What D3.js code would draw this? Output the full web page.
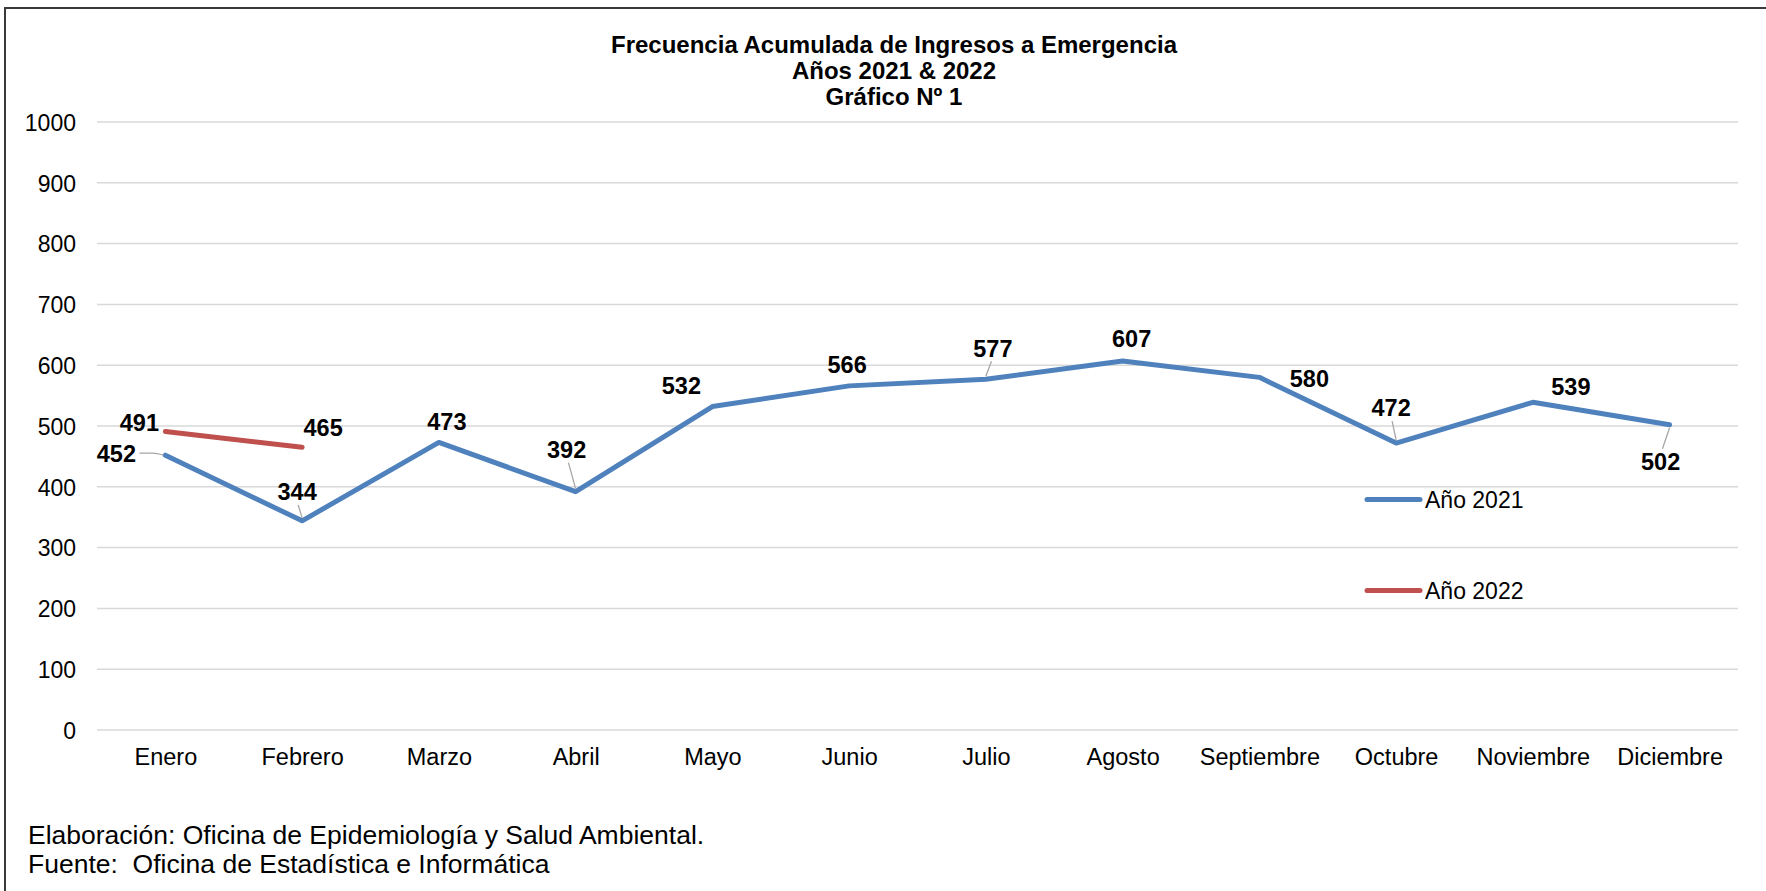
<!DOCTYPE html>
<html>
<head>
<meta charset="utf-8">
<script src="https://cdn.jsdelivr.net/npm/d3@7"></script>
<style>
  html, body { margin: 0; padding: 0; background: #ffffff; }
  svg { display: block; }
  text { font-family: "Liberation Sans", Arial, Helvetica, sans-serif; fill: #000; white-space: pre; }
</style>
</head>
<body>
<svg id="chart" width="1766" height="891"></svg>
<script>
// ---- data ----
const months = ["Enero","Febrero","Marzo","Abril","Mayo","Junio","Julio","Agosto","Septiembre","Octubre","Noviembre","Diciembre"];
const values2021 = [452, 344, 473, 392, 532, 566, 577, 607, 580, 472, 539, 502];
const values2022 = [491, 465];
const seriesNames = ["Año 2021", "Año 2022"];
const yTicks = [0, 100, 200, 300, 400, 500, 600, 700, 800, 900, 1000];
const titleLines = ["Frecuencia Acumulada de Ingresos a Emergencia", "Años 2021 & 2022", "Gráfico Nº 1"];
const footerLines = ["Elaboración: Oficina de Epidemiología y Salud Ambiental.", "Fuente:  Oficina de Estadística e Informática"];

// ---- layout / style ----
const colors = ["#4F81BD", "#C0504D"];
// label offsets (dx, dy) from the data point, plus leader style
const labelLayout2021 = [
  {dx:-49, dy:-2,  leader:"right"},
  {dx:-5,  dy:-29, leader:"below"},
  {dx:8,   dy:-21},
  {dx:-9,  dy:-42, leader:"below"},
  {dx:-31, dy:-21},
  {dx:-2,  dy:-21},
  {dx:7,   dy:-31, leader:"below"},
  {dx:9,   dy:-22},
  {dx:50,  dy:1},
  {dx:-5,  dy:-35, leader:"below"},
  {dx:38,  dy:-16},
  {dx:-9,  dy:37,  leader:"above"}
];
const labelLayout2022 = [
  {dx:-26, dy:-9},
  {dx:21,  dy:-20}
];

const svg = d3.select("#chart");

// frame
svg.append("path")
  .attr("d", "M5,891 L5,8 L1766,8")
  .attr("fill", "none")
  .attr("stroke", "#3a3a3a")
  .attr("stroke-width", 2);

const x = d3.scalePoint().domain(months).range([97, 1738]).padding(0.5);
const y = d3.scaleLinear().domain([0, 1000]).range([730, 122]);

// gridlines
svg.append("g").selectAll("line").data(yTicks).join("line")
  .attr("x1", 97).attr("x2", 1738)
  .attr("y1", d => y(d)).attr("y2", d => y(d))
  .attr("stroke", "#D9D9D9").attr("stroke-width", 1.5);

// y axis labels
const yAxis = d3.axisLeft(y).tickValues(yTicks).tickSize(0).tickPadding(0).tickFormat(d3.format("d"));
const gy = svg.append("g").attr("transform", "translate(76,0)").call(yAxis);
gy.select(".domain").remove();
gy.selectAll("text").attr("font-size", 23).attr("fill", "#000")
  .attr("font-family", "Liberation Sans, Arial, sans-serif").attr("dy", "0.36em");

// x axis labels
const xAxis = d3.axisBottom(x).tickSize(0).tickPadding(0);
const gx = svg.append("g").attr("transform", "translate(0,757)").call(xAxis);
gx.select(".domain").remove();
gx.selectAll("text").attr("font-size", 23.5).attr("fill", "#000")
  .attr("font-family", "Liberation Sans, Arial, sans-serif").attr("dy", "0.36em");

// lines
const line = d3.line().x((d, i) => x(months[i])).y(d => y(d));
[values2021, values2022].forEach((vals, s) => {
  svg.append("path")
    .datum(vals)
    .attr("d", line)
    .attr("fill", "none")
    .attr("stroke", colors[s])
    .attr("stroke-width", 5)
    .attr("stroke-linejoin", "round")
    .attr("stroke-linecap", "round");
});

// data labels with leader lines
function drawLabels(vals, layout) {
  vals.forEach((v, i) => {
    const px = x(months[i]), py = y(v);
    const L = layout[i];
    const lx = px + L.dx, ly = py + L.dy;
    if (L.leader) {
      let d;
      if (L.leader === "right") {
        d = `M${lx + 23},${ly} L${lx + 36},${ly} Q${lx + 40},${ly} ${px - 2},${py}`;
      } else if (L.leader === "below") {
        d = `M${lx + (px - lx) * 0.2},${ly + 13} L${px},${py - 3}`;
      } else {
        d = `M${lx + (px - lx) * 0.2},${ly - 13} L${px},${py + 3}`;
      }
      svg.append("path").attr("d", d).attr("fill", "none")
        .attr("stroke", "#A6A6A6").attr("stroke-width", 1.3);
    }
    svg.append("text")
      .attr("x", lx).attr("y", ly).attr("dy", "0.36em")
      .attr("text-anchor", "middle")
      .attr("font-size", 23.5).attr("font-weight", "bold")
      .text(v);
  });
}
drawLabels(values2021, labelLayout2021);
drawLabels(values2022, labelLayout2022);

// legend
seriesNames.forEach((name, s) => {
  const ly = s === 0 ? 499.5 : 590.5;
  svg.append("line")
    .attr("x1", 1367).attr("x2", 1420)
    .attr("y1", ly).attr("y2", ly)
    .attr("stroke", colors[s]).attr("stroke-width", 5)
    .attr("stroke-linecap", "round");
  svg.append("text")
    .attr("x", 1425).attr("y", ly).attr("dy", "0.36em")
    .attr("font-size", 23)
    .text(name);
});

// title
titleLines.forEach((t, i) => {
  svg.append("text")
    .attr("x", 894).attr("y", 53 + i * 26)
    .attr("text-anchor", "middle")
    .attr("font-size", 24).attr("font-weight", "bold")
    .text(t);
});

// footer
footerLines.forEach((t, i) => {
  svg.append("text")
    .attr("x", 28).attr("y", 844 + i * 29)
    .attr("font-size", 26.5)
    .attr("xml:space", "preserve")
    .text(t);
});
</script>
</body>
</html>
